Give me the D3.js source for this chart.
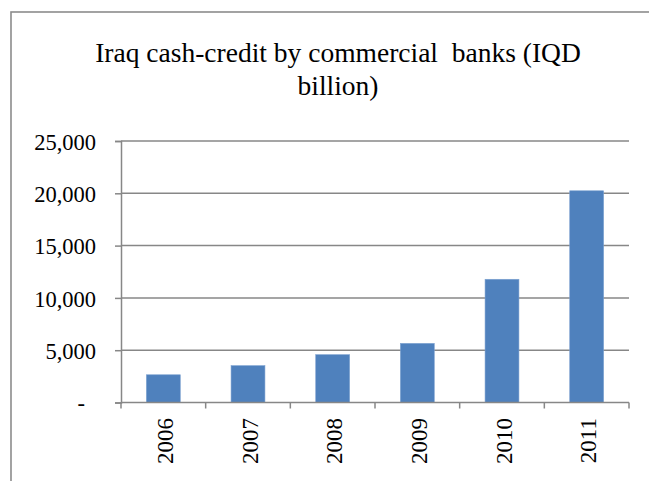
<!DOCTYPE html>
<html>
<head>
<meta charset="utf-8">
<script src="https://cdn.jsdelivr.net/npm/d3@7"></script>
<style>
  html, body { margin: 0; padding: 0; background: #fff; }
  svg { display: block; }
</style>
</head>
<body>
<svg id="chart" width="649" height="481"></svg>
<script>
// Cash credit extended by Iraqi commercial banks, IQD billion
const years = ["2006", "2007", "2008", "2009", "2010", "2011"];
const credit = [2650, 3520, 4570, 5650, 11780, 20240];
const yTicks = [0, 5000, 10000, 15000, 20000, 25000];
const titleLines = ["Iraq cash-credit by commercial\u00A0 banks (IQD", "billion)"];

const FONT = '"Liberation Serif", "Times New Roman", Tinos, serif';
const svg = d3.select("#chart");
const plot = { left: 121, right: 629, top: 141, bottom: 402.5 };
const grey = "#878787";

// chart area frame
svg.append("rect")
  .attr("x", 11).attr("y", 12)
  .attr("width", 700).attr("height", 600)
  .attr("fill", "#fff")
  .attr("stroke", "#8c8c8c").attr("stroke-width", 1.6);

// title, two centred lines
svg.append("g").selectAll("text").data(titleLines).join("text")
  .attr("x", 338)
  .attr("y", (d, i) => 62 + i * 32.5)
  .attr("text-anchor", "middle")
  .style("font-family", FONT)
  .style("font-size", "27.5px")
  .style("fill", "#000")
  .text(d => d);

const x = d3.scaleBand()
  .domain(years)
  .range([plot.left, plot.right])
  .paddingInner(0.6)
  .paddingOuter(0.3);

const y = d3.scaleLinear()
  .domain([0, 25000])
  .range([plot.bottom, plot.top]);

// horizontal gridlines
svg.append("g").selectAll("line").data(yTicks.slice(1)).join("line")
  .attr("x1", plot.left).attr("x2", plot.right)
  .attr("y1", d => y(d)).attr("y2", d => y(d))
  .attr("stroke", grey).attr("stroke-width", 1.5);

// bars
svg.append("g").selectAll("rect").data(years).join("rect")
  .attr("x", d => x(d))
  .attr("width", x.bandwidth())
  .attr("y", (d, i) => y(credit[i]))
  .attr("height", (d, i) => y(0) - y(credit[i]))
  .attr("fill", "#4f81bd")
  .attr("stroke", "#7aa0d0").attr("stroke-width", 0.6);

// value axis
const fmt = d3.format(",");
const yAxis = d3.axisLeft(y)
  .tickValues(yTicks)
  .tickSize(6)
  .tickPadding(0)
  .tickFormat(d => d === 0 ? "-" : fmt(d));
const gy = svg.append("g")
  .attr("transform", `translate(${plot.left},0)`)
  .call(yAxis);
gy.select(".domain").attr("stroke", grey).attr("stroke-width", 1.5);
gy.selectAll(".tick line").attr("stroke", grey).attr("stroke-width", 1.5);
gy.selectAll(".tick text")
  .attr("x", d => d === 0 ? -36 : -25)
  .attr("dy", "0.36em")
  .attr("text-anchor", "end")
  .style("font-family", FONT)
  .style("font-size", "22.5px")
  .style("fill", "#000");

// category axis
const step = x.step();
const bounds = d3.range(years.length + 1).map(i => plot.left + i * step);
svg.append("line")
  .attr("x1", plot.left).attr("x2", plot.right)
  .attr("y1", y(0)).attr("y2", y(0))
  .attr("stroke", grey).attr("stroke-width", 1.5);
svg.append("g").selectAll("line").data(bounds).join("line")
  .attr("x1", d => d).attr("x2", d => d)
  .attr("y1", y(0)).attr("y2", y(0) + 6)
  .attr("stroke", grey).attr("stroke-width", 1.5);

svg.append("g").selectAll("text").data(years).join("text")
  .attr("transform", d => `translate(${x(d) + x.bandwidth() / 2 + 2},418) rotate(-90)`)
  .attr("text-anchor", "end")
  .attr("dominant-baseline", "central")
  .style("font-family", FONT)
  .style("font-size", "23px")
  .style("fill", "#000")
  .text(d => d);
</script>
</body>
</html>
